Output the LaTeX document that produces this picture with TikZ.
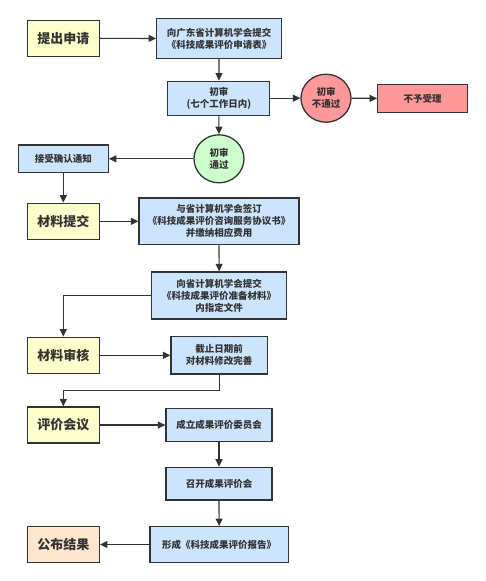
\documentclass[tikz,border=0pt]{standalone}
\usepackage{fontspec}
\setmainfont{Noto Sans CJK SC}
\usetikzlibrary{arrows.meta}
\definecolor{lineC}{HTML}{333333}
\definecolor{yelC}{HTML}{FFFFCC}
\definecolor{bluC}{HTML}{CCE5FF}
\definecolor{redC}{HTML}{FF9999}
\definecolor{grnC}{HTML}{CCFFCC}
\definecolor{pchC}{HTML}{FFE6CC}
\tikzset{
  base/.style={draw=lineC, line width=1.3pt, inner sep=0pt, align=center, text=lineC},
  stage/.style={base, fill=yelC, minimum width=72pt, minimum height=36pt, font=\fontsize{13pt}{15pt}\selectfont\bfseries},
  stepbox/.style={base, fill=bluC, font=\fontsize{9.5pt}{12pt}\selectfont\bfseries},
  circ/.style={base, ellipse, minimum width=50pt, minimum height=48pt, font=\fontsize{9.5pt}{12pt}\selectfont\bfseries},
  conn/.style={draw=lineC, line width=1.2pt, -{Triangle[length=7.5pt,width=7pt]}},
}
\usetikzlibrary{shapes.geometric}
\begin{document}
\begin{tikzpicture}[x=1pt,y=-1pt]
\useasboundingbox (0,0) rectangle (486,581);
\node[stage] (apply) at (63.3,38.3) {提出申请};
\node[stepbox, minimum width=125pt, minimum height=40pt] (sub1) at (219.2,38.5) {向广东省计算机学会提交\\《科技成果评价申请表》};
\node[stepbox, minimum width=102pt, minimum height=34pt] (pre) at (218.8,98.2) {初审\\(七个工作日内)};
\node[circ, fill=redC] (fail) at (326,98.2) {初审\\不通过};
\node[stepbox, fill=redC, minimum width=89.6pt, minimum height=27.6pt] (rej) at (422.5,98.5) {不予受理};
\node[circ, fill=grnC] (pass) at (219,158.8) {初审\\通过};
\node[stepbox, minimum width=90pt, minimum height=27.7pt] (note) at (63.3,158.8) {接受确认通知};
\node[stage] (mat) at (63.3,221.3) {材料提交};
\node[stepbox, minimum width=160pt, minimum height=46.7pt] (sign) at (219,221.3) {与省计算机学会签订\\《科技成果评价咨询服务协议书》\\并缴纳相应费用};
\node[stepbox, minimum width=135pt, minimum height=47pt] (sub2) at (219.2,295.5) {向省计算机学会提交\\《科技成果评价准备材料》\\内指定文件};
\node[stage] (rev) at (63.3,355.3) {材料审核};
\node[stepbox, minimum width=96.3pt, minimum height=37.3pt] (dead) at (219.2,355.3) {截止日期前\\对材料修改完善};
\node[stage] (meet) at (63.3,425) {评价会议};
\node[stepbox, minimum width=106pt, minimum height=32.6pt] (comm) at (219,425) {成立成果评价委员会};
\node[stepbox, minimum width=106pt, minimum height=32.7pt] (conv) at (219,483.7) {召开成果评价会};
\node[stepbox, minimum width=138.3pt, minimum height=35.6pt] (rep) at (219.2,544.5) {形成《科技成果评价报告》};
\node[stage, fill=pchC] (pub) at (63.3,544.5) {公布结果};
\draw[conn] (apply) -- (sub1);
\draw[conn] (sub1) -- (pre);
\draw[conn] (pre) -- (fail);
\draw[conn] (fail) -- (rej);
\draw[conn] (pre) -- (pass);
\draw[conn] (pass) -- (note);
\draw[conn] (note) -- (mat);
\draw[conn] (mat) -- (sign);
\draw[conn] (sign) -- (sub2);
\draw[conn] (sub2.west) -| (rev.north);
\draw[conn] (dead.south) |- (63.3,390.7) -- (meet.north);
\draw[conn] (rev) -- (dead);
\draw[conn] (meet) -- (comm);
\draw[conn] (comm) -- (conv);
\draw[conn] (conv) -- (rep);
\draw[conn] (rep) -- (pub);
\end{tikzpicture}
\end{document}
